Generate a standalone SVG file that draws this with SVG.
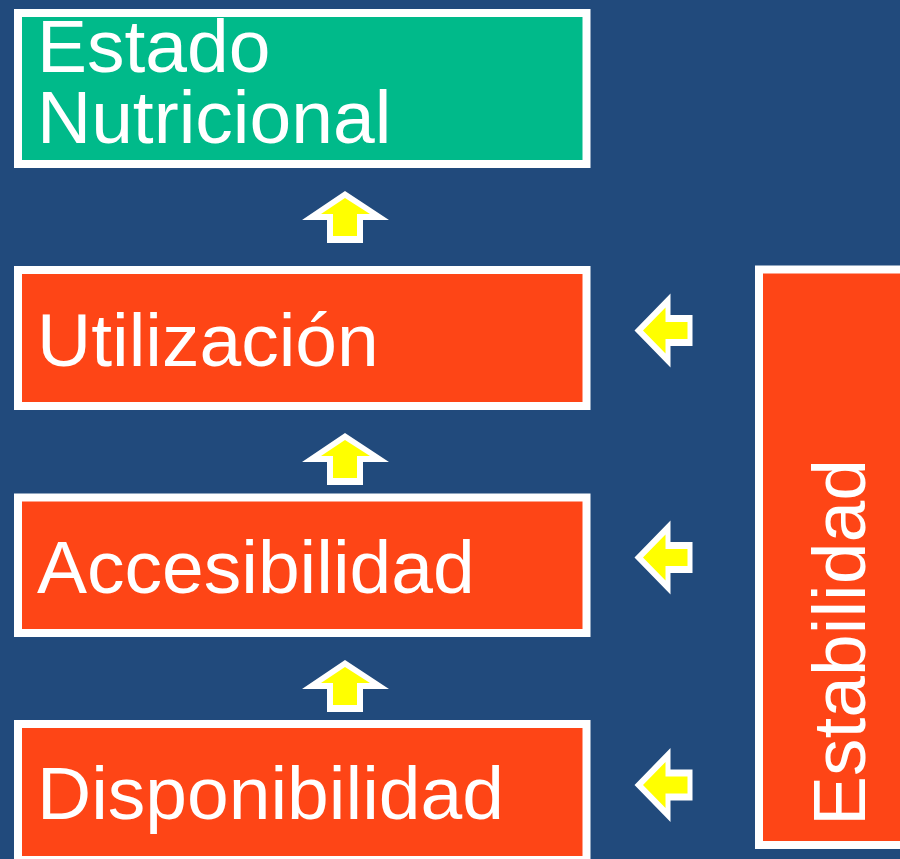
<svg xmlns="http://www.w3.org/2000/svg" xmlns:xlink="http://www.w3.org/1999/xlink" width="900" height="859" viewBox="0 0 900 859">
<style>
.box{stroke:#FFFFFF;stroke-width:8}
.green{fill:#00BA8A}
.orange{fill:#FE4516}
.lbl{font-family:"Liberation Sans",Arial,sans-serif;font-size:75px;fill:#FFFFFF}
.aw{fill:#FFFFFF}
.ay{fill:#FFFF00}
</style>
<defs>
<g id="up">
<polygon class="aw" points="0,0 -43,29 -18,29 -18,52 18,52 18,29 44,29"/>
<polygon class="ay" points="0,7 -24,23 -12,23 -12,45 12,45 12,23 25,23"/>
</g>
<g id="left">
<polygon class="aw" points="0,0 36,-37 36,-15.5 58,-15.5 58,15.5 36,15.5 36,37"/>
<polygon class="ay" points="8.5,0 31,-23 31,-8.5 53,-8.5 53,8.5 31,8.5 31,23"/>
</g>
</defs>
<rect x="0" y="0" width="900" height="859" fill="#214A7C"/>
<g id="estado">
<rect class="box green" x="18" y="13" width="568.5" height="151"/>
<text class="lbl"><tspan x="37" y="72">Estado</tspan><tspan x="37" y="143">Nutricional</tspan></text>
</g>
<g id="utilizacion">
<rect class="box orange" x="18" y="270" width="568.5" height="136"/>
<text class="lbl" x="37" y="366">Utilización</text>
</g>
<g id="accesibilidad">
<rect class="box orange" x="18" y="497.5" width="568.5" height="135.5"/>
<text class="lbl" x="37" y="593">Accesibilidad</text>
</g>
<g id="disponibilidad">
<rect class="box orange" x="18" y="724" width="568.5" height="136"/>
<text class="lbl" x="37" y="819">Disponibilidad</text>
</g>
<g id="estabilidad">
<rect class="box orange" x="759" y="269.5" width="160" height="575.5"/>
<text class="lbl" transform="translate(865,826) rotate(-90)" x="0" y="0">Estabilidad</text>
</g>
<g id="connectors">
<use xlink:href="#up" x="345" y="191"/>
<use xlink:href="#up" x="345" y="433"/>
<use xlink:href="#up" x="345" y="660"/>
<use xlink:href="#left" x="634.5" y="330.5"/>
<use xlink:href="#left" x="634.5" y="557.5"/>
<use xlink:href="#left" x="634.5" y="785"/>
</g>
</svg>
